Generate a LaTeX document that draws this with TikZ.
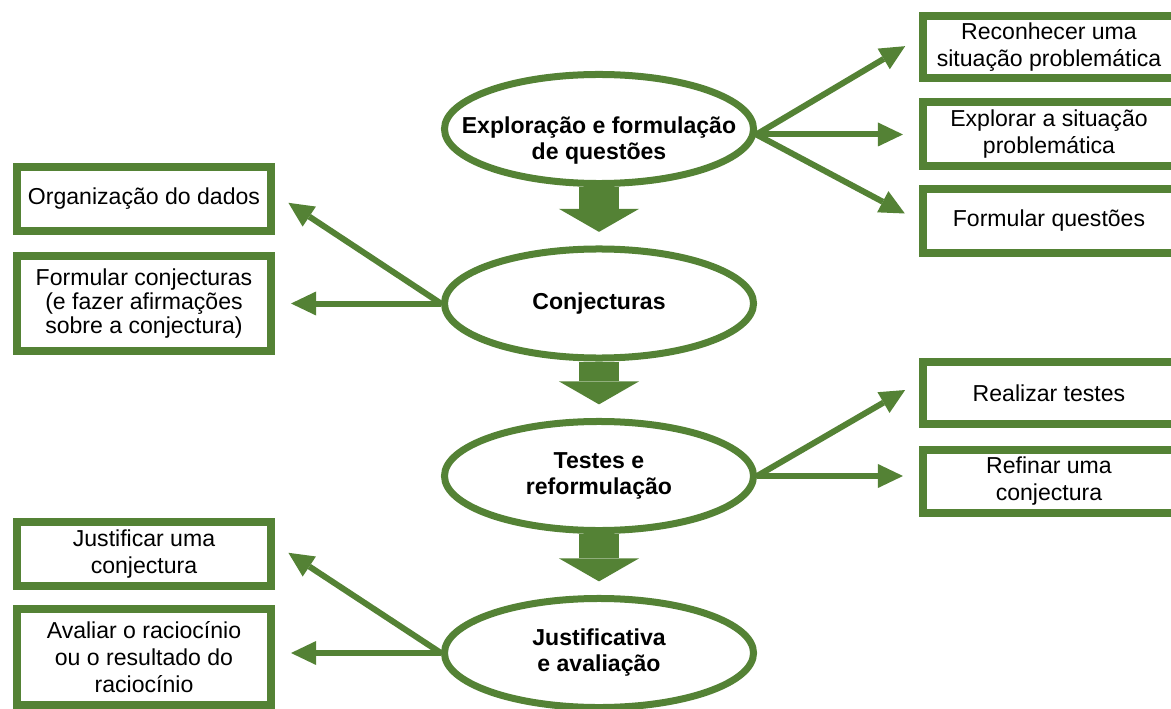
\documentclass[tikz,border=0pt]{standalone}
\usepackage{fontspec}
\setmainfont{Liberation Sans}
\usetikzlibrary{arrows.meta, shapes.geometric}
\definecolor{kgreen}{HTML}{548235}

\begin{document}
\begin{tikzpicture}[x=0.025cm, y=-0.025cm,
        stage/.style={ellipse, draw=kgreen, line width=0.175cm, fill=white, minimum width=7.725cm, minimum height=2.725cm, inner sep=0pt, align=center, font=\fontsize{16.4}{18.5}\selectfont\bfseries},
        stagetext/.style={inner sep=0pt, align=center, font=\fontsize{16.4}{18.5}\selectfont\bfseries},
        sidebox/.style={rectangle, draw=kgreen, line width=0.2cm, fill=white, minimum width=6.3cm, minimum height=1.6cm, inner sep=0pt, align=center, font=\fontsize{16.4}{19.2}\selectfont},
        link/.style={draw=kgreen, line width=0.15cm, -{Triangle[length=0.625cm, width=0.6cm, line width=0pt]}, shorten >=0.4cm},
        bigarrow/.style={draw=kgreen, line width=1cm, -{Triangle[length=0.575cm, width=2cm, line width=0pt]}, shorten >=0.34cm}]
        \useasboundingbox (0,0) rectangle (1171,709);

        % stages
        \node[stage] (explo) at (599,129) {};
        \node[stagetext] (explotext) at (599,140.5) {Exploração e formulação\\de questões};
        \node[stage] (conj) at (599,303.5) {Conjecturas};
        \node[stage] (test) at (599,476) {Testes e\\reformulação};
        \node[stage] (just) at (599,653) {Justificativa\\e avaliação};

        % left boxes
        \node[sidebox, minimum width=6.35cm] (orgdados) at (144,199) {Organização do dados};
        \node[sidebox, minimum width=6.35cm, minimum height=2.375cm, font=\fontsize{16.4}{17.1}\selectfont] (formconj) at (144,303.5) {Formular conjecturas\\(e fazer afirmações\\sobre a conjectura)};
        \node[sidebox, minimum width=6.35cm] (justconj) at (144,554) {Justificar uma\\conjectura};
        \node[sidebox, minimum width=6.35cm, minimum height=2.4cm] (avaliar) at (144,657) {Avaliar o raciocínio\\ou o resultado do\\raciocínio};

        % right boxes
        \node[sidebox, minimum height=1.55cm] (reco) at (1049,47) {Reconhecer uma\\situação problemática};
        \node[sidebox] (explsit) at (1049,134) {Explorar a situação\\problemática};
        \node[sidebox] (formq) at (1049,221) {Formular questões};
        \node[sidebox, minimum height=1.55cm] (realizar) at (1049,393) {Realizar testes};
        \node[sidebox, minimum height=1.575cm] (refinar) at (1049,481.5) {Refinar uma\\conjectura};

        % main flow
        \foreach \a/\b in {explo/conj, conj/test, test/just}
        {
            \draw[bigarrow] (\a.south) -- (\b.north);
        }

        % side links
        \draw[link] (explo.-2) -- ([yshift=0.225cm]reco.west);
        \draw[link] (explo.-2) -- (explo.-2 -| explsit.west);
        \draw[link] (explo.-2) -- (formq.west);
        \draw[link] (conj.west) -- ([yshift=0.125cm]orgdados.east);
        \draw[link] (conj.west) -- (formconj.east);
        \draw[link] (test.east) -- ([yshift=0.275cm]realizar.west);
        \draw[link] (test.east) -- (test.east -| refinar.west);
        \draw[link] (just.west) -- ([yshift=0.25cm]justconj.east);
        \draw[link] (just.west) -- (just.west -| avaliar.east);
\end{tikzpicture}
\end{document}
